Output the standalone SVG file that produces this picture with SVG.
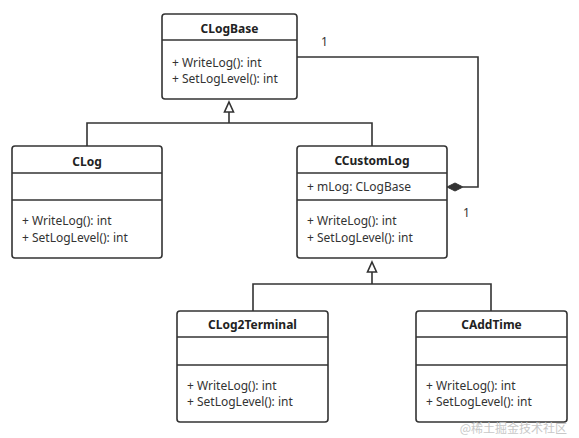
<svg xmlns="http://www.w3.org/2000/svg" width="579" height="438" viewBox="0 0 579 438">
<defs>
<style>
.box{fill:#fff;stroke:#333;stroke-width:1.6}
.sep{stroke:#333;stroke-width:1.4}
.t{font-family:"Noto Sans","Open Sans",sans-serif;font-size:12px;font-weight:bold;fill:#222;text-anchor:middle}
.m{font-family:"Noto Sans","Open Sans",sans-serif;font-size:12px;fill:#333}
.c{fill:none;stroke:#333;stroke-width:1.6}
.lbl{font-family:"Noto Sans","Open Sans",sans-serif;font-size:12px;fill:#333}
</style>
</defs>
<rect width="579" height="438" fill="#fff"/>
<g id="connectors">
<path class="c" d="M87,146 V123 H372 V146"/>
<path class="c" d="M229,123 V112"/>
<path d="M229,102 L233.5,112 L224.5,112 Z" fill="#fff" stroke="#333" stroke-width="1.6"/>
<path class="c" d="M253,311 V284 H491 V311"/>
<path class="c" d="M372,284 V272"/>
<path d="M372,262 L376.5,272 L367.5,272 Z" fill="#fff" stroke="#333" stroke-width="1.6"/>
<path class="c" d="M297,57 H478 V187 H463"/>
<path d="M447,187 L455,183 L463,187 L455,191 Z" fill="#333" stroke="#333" stroke-width="1"/>
<text class="lbl" x="321" y="46">1</text>
<text class="lbl" x="463" y="217">1</text>
</g>
<g id="CLogBase">
<rect class="box" x="162" y="14" width="135" height="85" rx="3"/>
<line class="sep" x1="162" y1="40" x2="297" y2="40"/>
<text class="t" x="229.5" y="33">CLogBase</text>
<text class="m" x="172" y="67">+ WriteLog(): int</text>
<text class="m" x="172" y="83">+ SetLogLevel(): int</text>
</g>
<g id="CLog">
<rect class="box" x="12" y="146" width="150" height="112" rx="3"/>
<line class="sep" x1="12" y1="173" x2="162" y2="173"/>
<line class="sep" x1="12" y1="200" x2="162" y2="200"/>
<text class="t" x="87" y="166">CLog</text>
<text class="m" x="22" y="225">+ WriteLog(): int</text>
<text class="m" x="22" y="242">+ SetLogLevel(): int</text>
</g>
<g id="CCustomLog">
<rect class="box" x="297" y="146" width="150" height="112" rx="3"/>
<line class="sep" x1="297" y1="173" x2="447" y2="173"/>
<line class="sep" x1="297" y1="200" x2="447" y2="200"/>
<text class="t" x="372" y="165">CCustomLog</text>
<text class="m" x="307" y="191">+ mLog: CLogBase</text>
<text class="m" x="307" y="225">+ WriteLog(): int</text>
<text class="m" x="307" y="242">+ SetLogLevel(): int</text>
</g>
<g id="CLog2Terminal">
<rect class="box" x="177" y="311" width="151" height="111" rx="3"/>
<line class="sep" x1="177" y1="337" x2="328" y2="337"/>
<line class="sep" x1="177" y1="365" x2="328" y2="365"/>
<text class="t" x="252.5" y="329">CLog2Terminal</text>
<text class="m" x="187" y="390">+ WriteLog(): int</text>
<text class="m" x="187" y="406">+ SetLogLevel(): int</text>
</g>
<g id="CAddTime">
<rect class="box" x="416" y="311" width="151" height="111" rx="3"/>
<line class="sep" x1="416" y1="337" x2="567" y2="337"/>
<line class="sep" x1="416" y1="365" x2="567" y2="365"/>
<text class="t" x="491.5" y="329">CAddTime</text>
<text class="m" x="426" y="390">+ WriteLog(): int</text>
<text class="m" x="426" y="406">+ SetLogLevel(): int</text>
</g>
<text x="567" y="433" text-anchor="end" font-family="'Noto Sans CJK SC',sans-serif" font-size="12" fill="#c8c8c8">@稀土掘金技术社区</text>
</svg>
